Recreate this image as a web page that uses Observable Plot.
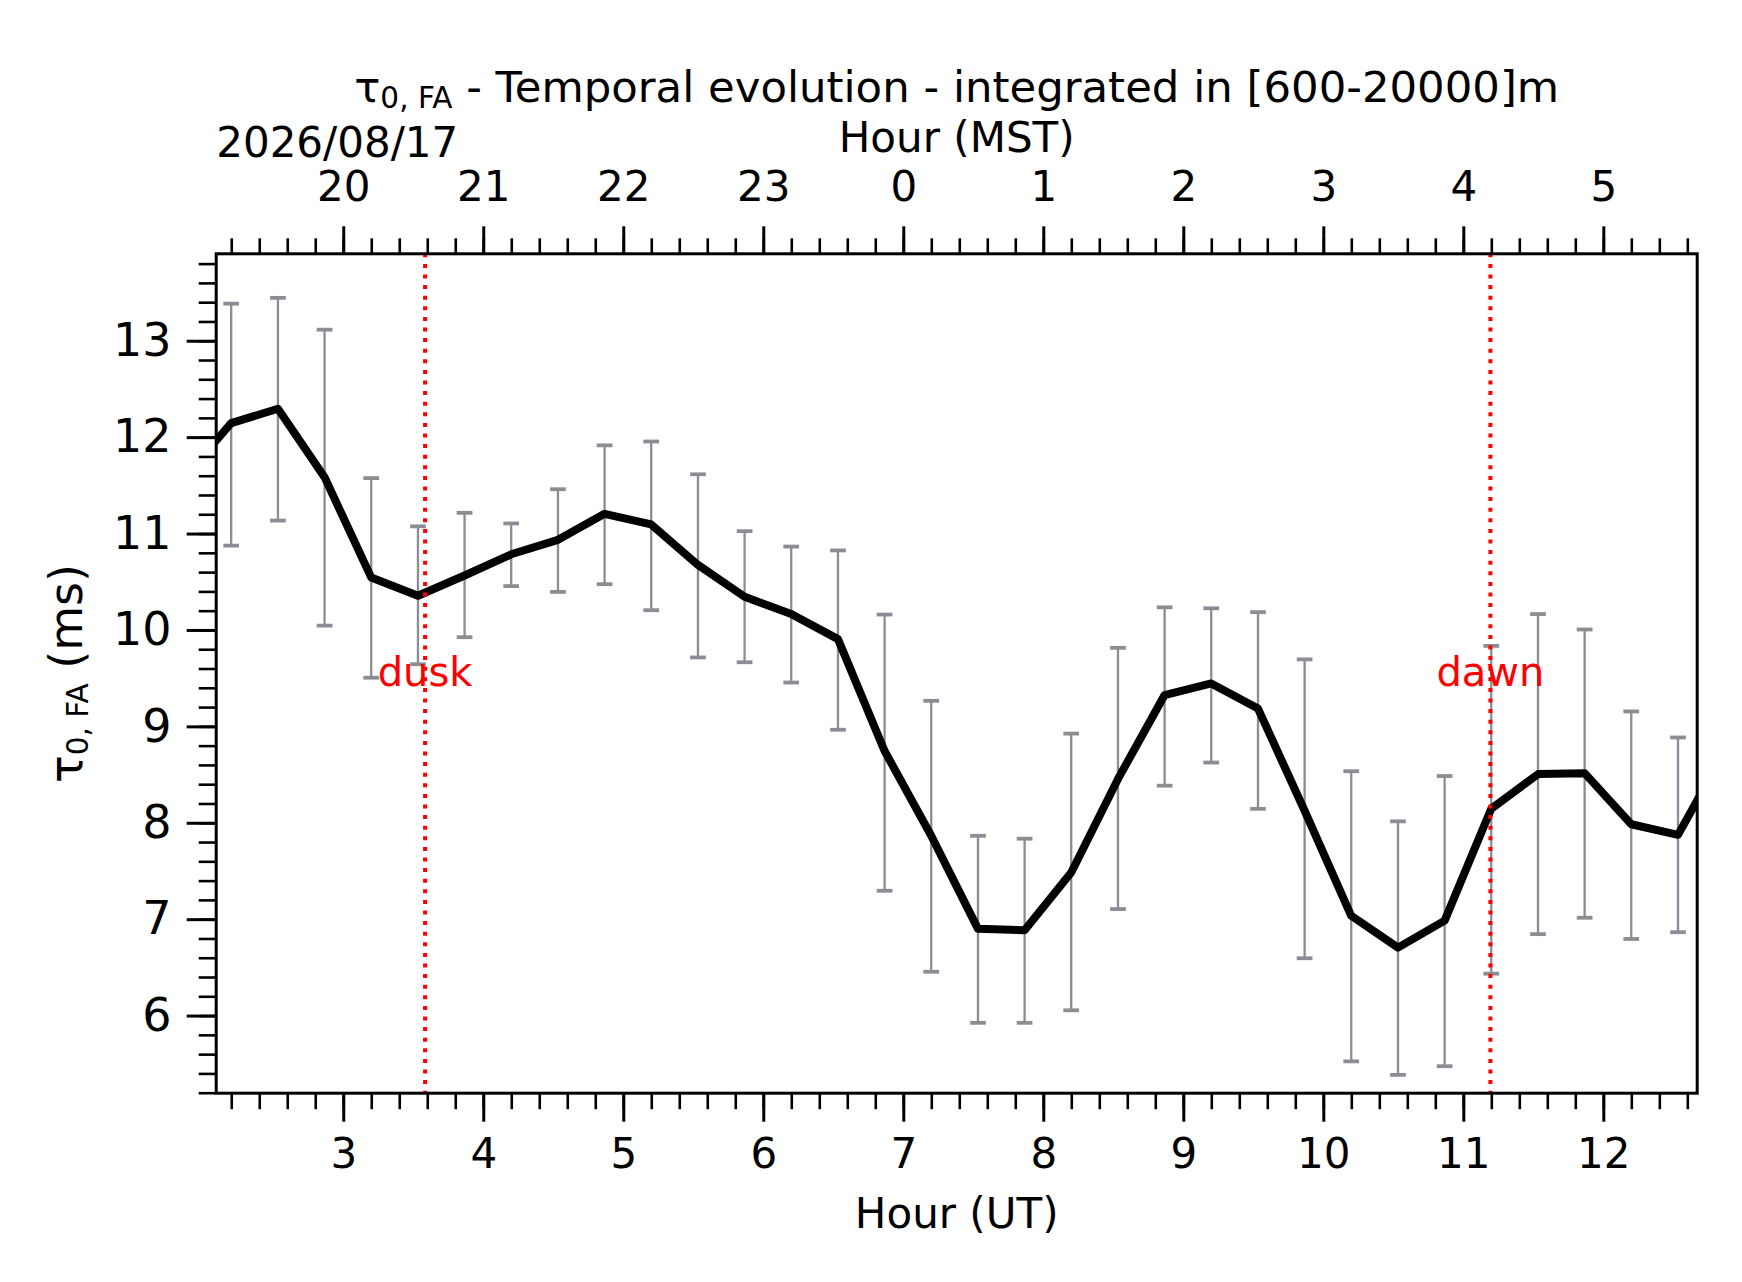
<!DOCTYPE html>
<html>
<head>
<meta charset="utf-8">
<script src="https://cdn.jsdelivr.net/npm/d3@7"></script>
<script src="https://cdn.jsdelivr.net/npm/@observablehq/plot@0.6"></script>
<style>
  html, body { margin: 0; padding: 0; background: #ffffff; }
  #chart svg { display: block; }
</style>
</head>
<body>
<div id="chart"></div>
<script>
// ---- Data ----
// Hour (UT) of each sample; first and last samples fall just outside the plotted window
const timesUT = [1.863, 2.196, 2.530, 2.863, 3.196, 3.530, 3.863, 4.196, 4.530, 4.863,
                 5.196, 5.530, 5.863, 6.196, 6.530, 6.863, 7.196, 7.530, 7.863, 8.196,
                 8.530, 8.863, 9.196, 9.530, 9.863, 10.196, 10.530, 10.863, 11.196, 11.530,
                 11.863, 12.196, 12.530, 12.863];
// tau_0,FA (ms)
const tauValues = [11.59, 12.15, 12.30, 11.59, 10.55, 10.36, 10.57, 10.79, 10.94, 11.21,
                   11.10, 10.68, 10.35, 10.17, 9.91, 8.75, 7.87, 6.905, 6.89, 7.49,
                   8.46, 9.33, 9.45, 9.19, 8.13, 7.04, 6.71, 6.99, 8.15, 8.51,
                   8.52, 7.99, 7.88, 8.75];
// error bar bottoms / tops (null: no bar drawn)
const errLow = [null, 10.88, 11.14, 10.05, 9.51, 9.65, 9.93, 10.46, 10.40, 10.48,
                10.21, 9.72, 9.67, 9.46, 8.97, 7.30, 6.46, 5.93, 5.93, 6.06,
                7.11, 8.39, 8.63, 8.15, 6.60, 5.53, 5.39, 5.48, 6.44, 6.85,
                7.02, 6.80, 6.87, null];
const errHigh = [null, 13.39, 13.45, 13.12, 11.58, 11.08, 11.22, 11.11, 11.465, 11.92,
                 11.96, 11.62, 11.03, 10.87, 10.83, 10.165, 9.27, 7.87, 7.84, 8.93,
                 9.82, 10.24, 10.23, 10.19, 9.70, 8.54, 8.02, 8.49, 9.84, 10.17,
                 10.01, 9.16, 8.89, null];
// twilight markers
const eventNames = ["dusk", "dawn"];
const eventTimes = [3.581, 11.19];
// ticks
const xMajorTicks = [3, 4, 5, 6, 7, 8, 9, 10, 11, 12];
const yMajorTicks = [6, 7, 8, 9, 10, 11, 12, 13];
const xMinorTicks = d3.range(22, 127, 2).map(v => v / 10);
const yMinorTicks = d3.range(52, 139, 2).map(v => v / 10);
const utcOffsetMST = -7;
const dateLabel = "2026/08/17";
const titleText = "τ|0, FA| - Temporal evolution - integrated in [600-20000]m";
const yLabelText = "τ|0, FA| (ms)";

// ---- tables ----
const series = timesUT.map((t, i) => ({t, v: tauValues[i], lo: errLow[i], hi: errHigh[i]}));
const bars = series.filter(d => d.lo != null && d.hi != null);
const events = eventNames.map((name, i) => ({name, t: eventTimes[i]}));

const errColor = "#8a8d94";
const capSymbol = {
  draw(context, size) {
    const w = Math.sqrt(size / Math.PI);
    context.moveTo(-w, 0);
    context.lineTo(w, 0);
  }
};

const chart = Plot.plot({
  width: 1742,
  height: 1282,
  marginLeft: 215.7,
  marginRight: 45.3,
  marginTop: 253.3,
  marginBottom: 189.3,
  style: {fontFamily: "DejaVu Sans", background: "white", color: "black", overflow: "visible"},
  x: {domain: [2.089, 12.667]},
  y: {domain: [5.2, 13.907]},
  marks: [
    Plot.ruleX(bars, {x: "t", y1: "lo", y2: "hi", stroke: errColor, strokeWidth: 2.3}),
    Plot.dot(bars, {x: "t", y: "lo", symbol: capSymbol, r: 7.85, fill: "none", stroke: errColor, strokeWidth: 3.8, strokeLinecap: "butt"}),
    Plot.dot(bars, {x: "t", y: "hi", symbol: capSymbol, r: 7.85, fill: "none", stroke: errColor, strokeWidth: 3.8, strokeLinecap: "butt"}),
    Plot.line(series, {x: "t", y: "v", stroke: "black", strokeWidth: 8, clip: true}),
    Plot.ruleX(events, {x: "t", stroke: "red", strokeWidth: 4, strokeDasharray: "4,6.6"}),
    Plot.text(events, {x: "t", text: "name", frameAnchor: "top", dy: 432.2, lineAnchor: "bottom",
                       textAnchor: "middle", fill: "red", fontSize: 40}),
    Plot.frame({stroke: "black", strokeWidth: 3}),
    // bottom axis (UT)
    Plot.axisX(xMinorTicks, {anchor: "bottom", tickSize: 16.5, strokeWidth: 2.6, tickFormat: () => "", label: null}),
    Plot.axisX(xMajorTicks, {anchor: "bottom", tickSize: 29, tickPadding: 16, strokeWidth: 3, fontSize: 42,
                             tickFormat: d => String(d), label: null}),
    // top axis (MST)
    Plot.axisX(xMinorTicks, {anchor: "top", tickSize: 16, strokeWidth: 2.6, tickFormat: () => "", label: null}),
    Plot.axisX(xMajorTicks, {anchor: "top", tickSize: 28, tickPadding: 25.3, strokeWidth: 3, fontSize: 42,
                             tickFormat: d => String((d + utcOffsetMST + 24) % 24), label: null}),
    // left axis
    Plot.axisY(yMinorTicks, {anchor: "left", tickSize: 17, strokeWidth: 2.6, tickFormat: () => "", label: null}),
    Plot.axisY(yMajorTicks, {anchor: "left", tickSize: 29, tickPadding: 15.7, strokeWidth: 3, fontSize: 46,
                             tickFormat: d => String(d), label: null}),
    // titles & labels
    Plot.text([titleText], {text: d => d, frameAnchor: "top", dy: -151.6, lineAnchor: "bottom",
                            textAnchor: "middle", fontSize: 43.4, fill: "black"}),
    Plot.text(["Hour (MST)"], {text: d => d, frameAnchor: "top", dy: -102.3, lineAnchor: "bottom",
                               textAnchor: "middle", fontSize: 42, fill: "black"}),
    Plot.text([dateLabel], {text: d => d, frameAnchor: "top-left", dy: -97, lineAnchor: "bottom",
                            textAnchor: "start", fontSize: 42, fill: "black"}),
    Plot.text(["Hour (UT)"], {text: d => d, frameAnchor: "bottom", dy: 134.3, lineAnchor: "bottom",
                              textAnchor: "middle", fontSize: 42, fill: "black"}),
    Plot.text([yLabelText], {text: d => d, frameAnchor: "left", dx: -134, rotate: -90, lineAnchor: "bottom",
                             textAnchor: "middle", fontSize: 46, fill: "black"})
  ]
});

// turn "a|sub|b" strings into text with a subscript
const NS = "http://www.w3.org/2000/svg";
chart.querySelectorAll("text").forEach(t => {
  const el = t.querySelector("tspan") || t;
  const s = el.textContent;
  if (s.indexOf("|") < 0) return;
  const [a, sub, b] = s.split("|");
  const size = parseFloat(t.getAttribute("font-size") || t.closest("g").getAttribute("font-size") || 42);
  const subSize = Math.min(size * 0.69, 29.5);
  const shift = 6;
  el.textContent = "";
  el.appendChild(document.createTextNode(a));
  const ts = document.createElementNS(NS, "tspan");
  ts.setAttribute("font-size", subSize.toFixed(1));
  ts.setAttribute("dy", shift.toFixed(1));
  ts.textContent = sub;
  el.appendChild(ts);
  const tb = document.createElementNS(NS, "tspan");
  tb.setAttribute("dy", (-shift).toFixed(1));
  tb.textContent = b;
  el.appendChild(tb);
});

document.getElementById("chart").appendChild(chart);
</script>
</body>
</html>
